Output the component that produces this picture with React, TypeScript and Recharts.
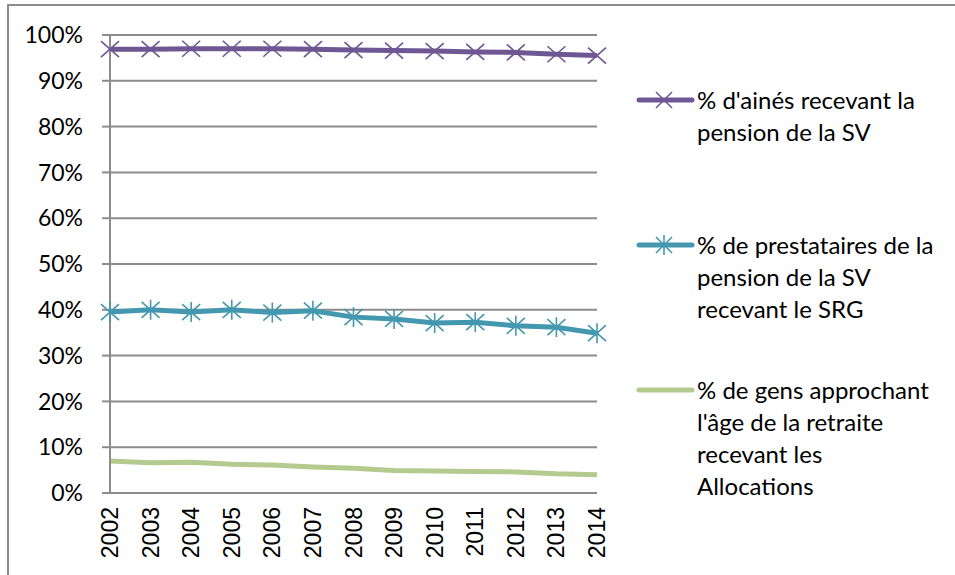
import React from "react";
import { LineChart, Line, XAxis, YAxis, CartesianGrid, Legend } from "recharts";

const years = ["2002", "2003", "2004", "2005", "2006", "2007", "2008", "2009", "2010", "2011", "2012", "2013", "2014"];
const pensionSV = [0.969, 0.969, 0.97, 0.97, 0.97, 0.969, 0.967, 0.966, 0.965, 0.963, 0.962, 0.958, 0.955];
const recipientsSRG = [0.395, 0.4, 0.395, 0.4, 0.394, 0.398, 0.384, 0.38, 0.371, 0.373, 0.365, 0.362, 0.349];
const allowances = [0.07, 0.066, 0.067, 0.063, 0.061, 0.057, 0.054, 0.049, 0.048, 0.047, 0.046, 0.042, 0.04];
const yTicks = [0, 0.1, 0.2, 0.3, 0.4, 0.5, 0.6, 0.7, 0.8, 0.9, 1];

const seriesNames = ["pensionSV", "recipientsSRG", "allowances"];
const seriesColors = ["#6F5793", "#4398B0", "#B3CB8E"];
const legendLines = [
  ["% d'ainés recevant la", "pension de la SV"],
  ["% de prestataires de la", "pension de la SV", "recevant le SRG"],
  ["% de gens approchant", "l'âge de la retraite", "recevant les", "Allocations"],
];

const data = years.map((year, i) => ({
  year,
  pensionSV: pensionSV[i],
  recipientsSRG: recipientsSRG[i],
  allowances: allowances[i],
}));

const edgeTicks = [...years.map((_, i) => i), years.length];

const GRAY = "#8c8c8c";
const FONT = "Lato, 'Liberation Sans', sans-serif";

// "x" shaped marker
const CrossDot = (props: any) => {
  const { cx, cy, stroke } = props;
  if (cx == null || cy == null) return null;
  return (
    <g stroke={stroke} strokeWidth={1.6}>
      <line x1={cx - 9} y1={cy - 8} x2={cx + 9} y2={cy + 8} />
      <line x1={cx - 9} y1={cy + 8} x2={cx + 9} y2={cy - 8} />
    </g>
  );
};

// asterisk marker
const StarDot = (props: any) => {
  const { cx, cy, stroke } = props;
  if (cx == null || cy == null) return null;
  return (
    <g stroke={stroke} strokeWidth={1.6}>
      <line x1={cx - 9} y1={cy - 8} x2={cx + 9} y2={cy + 8} />
      <line x1={cx - 9} y1={cy + 8} x2={cx + 9} y2={cy - 8} />
      <line x1={cx} y1={cy - 10} x2={cx} y2={cy + 10} />
    </g>
  );
};

const YearTick = (props: any) => {
  const { x, y, payload } = props;
  return (
    <text
      transform={`translate(${x},${y}) rotate(-90)`}
      textAnchor="end"
      dominantBaseline="central"
      fontSize={23}
      fontFamily="'Liberation Sans', Arial, sans-serif"
      fill="#000"
    >
      {payload.value}
    </text>
  );
};

const LegendIcon = ({ index, color }: { index: number; color: string }) => (
  <svg width={60} height={24} style={{ position: "absolute", left: 0, top: 4 }}>
    <line x1={3} y1={12} x2={56} y2={12} stroke={color} strokeWidth={5} strokeLinecap="round" />
    {index < 2 && (
      <g stroke={color} strokeWidth={1.6}>
        <line x1={20} y1={4} x2={36} y2={20} />
        <line x1={20} y1={20} x2={36} y2={4} />
        {index === 1 && <line x1={28} y1={2} x2={28} y2={22} />}
      </g>
    )}
  </svg>
);

const renderLegend = () => (
  <div style={{ position: "relative", width: 310, height: 440, fontFamily: FONT }}>
    {legendLines.map((lines, i) => (
      <div key={i} style={{ position: "absolute", left: 0, top: i * 145 }}>
        <LegendIcon index={i} color={seriesColors[i]} />
        <div style={{ marginLeft: 61, fontSize: 24, lineHeight: "32px", color: "#000", whiteSpace: "nowrap" }}>
          {lines.map((t, k) => (
            <div key={k}>{t}</div>
          ))}
        </div>
      </div>
    ))}
  </div>
);

export default function App() {
  return (
    <div style={{ position: "fixed", left: 0, top: 0, width: 955, height: 575, overflow: "hidden", background: "#fff" }}>
      <div
        style={{
          position: "absolute",
          left: 7,
          top: 4,
          width: 1000,
          height: 620,
          border: `2px solid ${GRAY}`,
        }}
      />
      <div style={{ position: "absolute", left: 0, top: 0 }}>
        <LineChart width={955} height={575} data={data} margin={{ top: 35, right: 358, bottom: 0, left: 0 }}>
          <CartesianGrid vertical={false} stroke={GRAY} strokeWidth={2} />
          <XAxis
            xAxisId="edges"
            type="number"
            domain={[0, years.length]}
            ticks={edgeTicks}
            allowDataOverflow
            tickFormatter={() => ""}
            height={0}
            axisLine={{ stroke: GRAY, strokeWidth: 2 }}
            tickLine={{ stroke: GRAY, strokeWidth: 2 }}
            tickSize={8}
          />
          <XAxis
            xAxisId="cat"
            dataKey="year"
            height={82}
            axisLine={false}
            tickLine={false}
            tickSize={0}
            tickMargin={14}
            interval={0}
            tick={<YearTick />}
          />
          <YAxis
            width={110}
            domain={[0, 1]}
            ticks={yTicks}
            interval={0}
            tickFormatter={(v) => `${Math.round(v * 100)}%`}
            axisLine={{ stroke: GRAY, strokeWidth: 2 }}
            tickLine={{ stroke: GRAY, strokeWidth: 2 }}
            tickSize={8}
            tickMargin={19}
            tick={{ fontSize: 23, fill: "#000", fontFamily: FONT }}
          />
          <Legend
            layout="vertical"
            align="center"
            verticalAlign="middle"
            wrapperStyle={{ left: 636, top: 84, width: 310 }}
            content={renderLegend}
          />
          <Line
            xAxisId="cat"
            dataKey={seriesNames[0]}
            stroke={seriesColors[0]}
            strokeWidth={5}
            dot={<CrossDot />}
            activeDot={false}
            isAnimationActive={false}
          />
          <Line
            xAxisId="cat"
            dataKey={seriesNames[1]}
            stroke={seriesColors[1]}
            strokeWidth={5}
            dot={<StarDot />}
            activeDot={false}
            isAnimationActive={false}
          />
          <Line
            xAxisId="cat"
            dataKey={seriesNames[2]}
            stroke={seriesColors[2]}
            strokeWidth={5}
            dot={false}
            activeDot={false}
            isAnimationActive={false}
          />
        </LineChart>
      </div>
    </div>
  );
}
